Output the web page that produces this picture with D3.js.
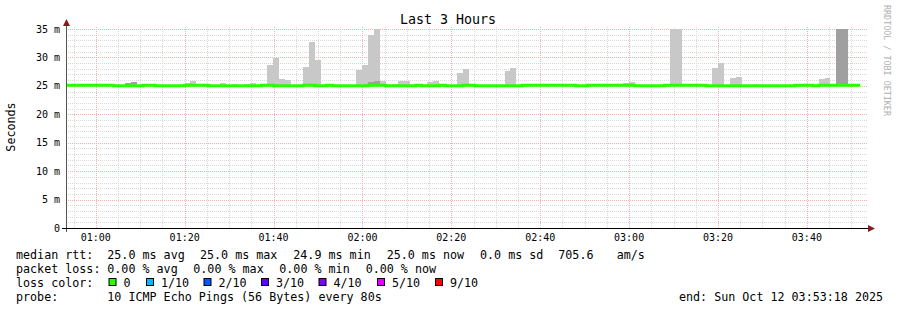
<!DOCTYPE html>
<html><head><meta charset="utf-8">
<script src="https://cdn.jsdelivr.net/npm/d3@7"></script>
<style>body{margin:0;background:#fff}svg{display:block}</style>
</head><body>
<svg id="c" width="897" height="310"></svg>
<script>
// ---------- data ----------
const chartTitle = "Last 3 Hours";
const yAxisTitle = "Seconds";
const creditText = "RRDTOOL / TOBI OETIKER";
const endTimeStr = "2025-10-12T03:53:18";
const rangeHours = 3;
const stepSeconds = 80;
const yTickValues = [0, 5, 10, 15, 20, 25, 30, 35];
const yTickLabels = ["0", "5 m", "10 m", "15 m", "20 m", "25 m", "30 m", "35 m"];
const xTickLabels = ["01:00", "01:20", "01:40", "02:00", "02:20", "02:40", "03:00", "03:20", "03:40"];

// median RTT per 80 s step (ms)
const medianMs = [
  25.1,25.1,25.1,25.1,25.1,25.1,25.1,25.1,25.0,25.0,
  25.0,25.0,25.0,25.1,25.1,25.0,25.0,25.0,25.0,25.0,
  25.1,25.1,25.1,25.1,25.0,25.0,25.0,25.0,25.0,25.0,
  25.0,25.0,25.0,25.1,25.1,25.0,25.0,25.0,25.0,25.0,
  25.1,25.1,25.0,25.0,25.1,25.0,25.0,25.0,25.0,25.0,
  25.0,25.1,25.1,25.1,25.0,25.0,25.0,25.0,25.0,25.1,
  25.0,25.0,25.0,25.1,25.0,25.0,25.0,25.1,25.1,25.0,
  25.0,25.0,25.0,25.0,25.0,25.0,25.0,25.1,25.1,25.1,
  25.1,25.1,25.1,25.1,25.1,25.1,25.0,25.0,25.1,25.1,
  25.1,25.1,25.1,25.1,25.1,25.1,25.0,25.0,25.0,25.0,
  25.0,25.1,25.1,25.1,25.1,25.1,25.1,25.1,25.0,25.0,
  25.0,25.0,25.0,25.0,25.0,25.0,25.0,25.0,25.0,25.0,
  25.0,25.0,25.0,25.1,25.1,25.1,25.0,25.1,25.1,25.1,
  25.1,25.1,25.1,25.1
];
// highest ping per step (light smoke top, ms)
const smokeTopMs = [
  25.1,25.1,25.1,25.1,25.1,25.1,25.1,25.1,25.1,25.1,
  25.45,25.6,25.1,25.1,25.1,25.1,25.1,25.1,25.1,25.1,
  25.45,25.8,25.1,25.1,25.1,25.1,25.45,25.2,25.3,25.1,
  25.35,25.45,25.1,25.1,28.7,29.9,26.2,26.0,25.1,25.1,
  28.3,32.7,29.5,25.1,25.1,25.1,25.1,25.1,25.1,27.75,
  28.7,34.0,35.4,25.8,25.1,25.3,25.8,25.8,25.1,25.1,
  25.1,25.6,25.8,25.1,25.1,25.1,27.2,27.9,25.1,25.1,
  25.1,25.1,25.1,25.1,27.6,28.1,25.1,25.1,25.1,25.1,
  25.1,25.1,25.1,25.1,25.1,25.1,25.1,25.1,25.1,25.1,
  25.1,25.1,25.1,25.1,25.45,25.6,25.1,25.1,25.1,25.1,
  25.1,25.1,38.0,38.0,25.1,25.1,25.1,25.1,25.1,28.1,
  29.0,25.1,26.3,26.5,25.1,25.1,25.3,25.1,25.1,25.1,
  25.1,25.1,25.1,25.1,25.1,25.1,25.1,26.2,26.3,25.1,
  38.0,38.0,25.3,25.3
];
const smokeBottomMs = 24.9;
// dense (dark) smoke steps
const darkSteps = [10, 11, 51, 52, 130, 131];
const darkTopMs = [25.45, 25.6, 25.6, 25.8, 38.0, 38.0];

const rttLabel = "median rtt:";
const rttStats = ["25.0 ms avg", "25.0 ms max", "24.9 ms min", "25.0 ms now", "0.0 ms sd", "705.6", "am/s"];
const lossLabel = "packet loss:";
const lossStats = ["0.00 % avg", "0.00 % max", "0.00 % min", "0.00 % now"];
const lossColorLabel = "loss color:";
const lossLabels = ["0", "1/10", "2/10", "3/10", "4/10", "5/10", "9/10"];
const lossColors = ["#26ff00", "#00b8ff", "#0059ff", "#5e00ff", "#7e00ff", "#dd00ff", "#ff0000"];
const probeLabel = "probe:";
const probeText = "10 ICMP Echo Pings (56 Bytes) every 80s";
const endText = "end: Sun Oct 12 03:53:18 2025";

// ---------- layout ----------
const L = 66, R = 866, T = 29, B = 228;
const mono = "'DejaVu Sans Mono', monospace";
const svg = d3.select("#c");
svg.append("rect").attr("width", 897).attr("height", 310).attr("fill", "#fff");

const end = new Date(endTimeStr);
const start = new Date(end.getTime() - rangeHours * 3600 * 1000);
const x = d3.scaleTime().domain([start, end]).range([L, R]);
const y = d3.scaleLinear().domain([0, 35]).range([B, T]).clamp(true);
const stepTime = i => new Date(start.getTime() + i * stepSeconds * 1000);

// ---------- grid ----------
const minorCol = "#d8d8d8", majorCol = "#f4b0b0";
const grid = svg.append("g").attr("shape-rendering", "crispEdges");
const minorY = d3.range(1, 36).filter(v => v % 5 !== 0);
grid.selectAll(".hmin").data(minorY).enter().append("line")
  .attr("x1", L).attr("x2", R + 2).attr("y1", d => Math.round(y(d)) + 0.5).attr("y2", d => Math.round(y(d)) + 0.5)
  .attr("stroke", minorCol).attr("stroke-dasharray", "1,1");
const minorX = d3.timeMinute.every(5).range(start, end).filter(t => t.getMinutes() % 20 !== 0);
grid.selectAll(".vmin").data(minorX).enter().append("line")
  .attr("x1", d => Math.round(x(d)) + 0.5).attr("x2", d => Math.round(x(d)) + 0.5).attr("y1", T - 2).attr("y2", B)
  .attr("stroke", minorCol).attr("stroke-dasharray", "1,1");
grid.selectAll(".hmaj").data(yTickValues.filter(v => v > 0)).enter().append("line")
  .attr("x1", L).attr("x2", R + 2).attr("y1", d => Math.round(y(d)) + 0.5).attr("y2", d => Math.round(y(d)) + 0.5)
  .attr("stroke", majorCol).attr("stroke-dasharray", "1,1");
const majorX = d3.timeMinute.every(20).range(start, end);
grid.selectAll(".vmaj").data(majorX).enter().append("line")
  .attr("x1", d => Math.round(x(d)) + 0.5).attr("x2", d => Math.round(x(d)) + 0.5).attr("y1", T - 2).attr("y2", B)
  .attr("stroke", majorCol).attr("stroke-dasharray", "1,1");

// ---------- smoke ----------
const smoke = svg.append("g").attr("shape-rendering", "crispEdges");
smoke.selectAll(".sl").data(smokeTopMs).enter().append("rect")
  .attr("x", (d, i) => x(stepTime(i)))
  .attr("width", (d, i) => x(stepTime(i + 1)) - x(stepTime(i)))
  .attr("y", d => y(d))
  .attr("height", d => Math.max(0, y(smokeBottomMs) - y(d)))
  .attr("fill", "#c8c8c8");
smoke.selectAll(".sd").data(darkSteps).enter().append("rect")
  .attr("x", d => x(stepTime(d)))
  .attr("width", d => x(stepTime(d + 1)) - x(stepTime(d)))
  .attr("y", (d, k) => y(darkTopMs[k]))
  .attr("height", (d, k) => Math.max(0, y(smokeBottomMs) - y(darkTopMs[k])))
  .attr("fill", "#a0a0a0");

// ---------- median line ----------
const pts = medianMs.map((v, i) => [stepTime(i), v]);
pts.push([stepTime(medianMs.length), medianMs[medianMs.length - 1]]);
svg.append("path")
  .attr("d", d3.line().x(d => x(d[0])).y(d => y(d[1])).curve(d3.curveStepAfter)(pts))
  .attr("fill", "none").attr("stroke", lossColors[0]).attr("stroke-width", 3);

// ---------- axes ----------
svg.append("line").attr("x1", L + 0.5).attr("x2", L + 0.5).attr("y1", B + 4).attr("y2", 22)
  .attr("stroke", "#555").attr("shape-rendering", "crispEdges");
svg.append("line").attr("x1", L - 4).attr("x2", R + 3).attr("y1", B + 0.5).attr("y2", B + 0.5)
  .attr("stroke", "#000").attr("shape-rendering", "crispEdges");
svg.append("path").attr("d", `M${L - 3},26 L${L + 0.5},19 L${L + 4},26 Z`).attr("fill", "#8b1a1a");
svg.append("path").attr("d", `M${R + 2},${B - 3} L${R + 9},${B + 0.5} L${R + 2},${B + 4} Z`).attr("fill", "#8b1a1a");

svg.append("g").selectAll("text").data(yTickValues).enter().append("text")
  .attr("x", 60).attr("y", d => y(d) + 3.6).attr("text-anchor", "end")
  .attr("font-family", mono).attr("font-size", 10).attr("fill", "#000")
  .text((d, i) => yTickLabels[i]);

svg.append("g").selectAll("text").data(majorX).enter().append("text")
  .attr("x", d => x(d)).attr("y", 240.5).attr("text-anchor", "middle")
  .attr("font-family", mono).attr("font-size", 10).attr("fill", "#000")
  .text((d, i) => xTickLabels[i]);

// ---------- titles ----------
svg.append("text").attr("x", 448).attr("y", 24).attr("text-anchor", "middle")
  .attr("font-family", mono).attr("font-size", 13.3).attr("fill", "#000").text(chartTitle);
svg.append("text").attr("transform", "translate(15,127) rotate(-90)").attr("text-anchor", "middle")
  .attr("font-family", mono).attr("font-size", 11.7).attr("fill", "#000").text(yAxisTitle);
svg.append("text").attr("transform", "translate(884,5) rotate(90)").attr("text-anchor", "start")
  .attr("font-family", mono).attr("font-size", 8.4).attr("fill", "#b0b0b0").text(creditText);

// ---------- legend ----------
const lg = svg.append("g").attr("font-family", mono).attr("font-size", 11.7).attr("fill", "#000");
const rows = [258.5, 272.5, 286.8, 300.8];
const t = (xx, yy, s) => lg.append("text").attr("x", xx).attr("y", yy).attr("xml:space", "preserve").text(s);
t(16, rows[0], rttLabel);
const rttX = [107.3, 200, 293.3, 386.7, 480, 558.3, 616.7];
rttStats.forEach((s, i) => t(rttX[i], rows[0], s));
t(16, rows[1], lossLabel);
const lossX = [107.3, 193.3, 279.3, 365.7];
lossStats.forEach((s, i) => t(lossX[i], rows[1], s));
t(16, rows[2], lossColorLabel);
const boxX = [108.5, 146, 203.5, 261, 318.5, 377, 435];
lossLabels.forEach((s, i) => {
  lg.append("rect").attr("x", boxX[i] + 0.5).attr("y", 278.5).attr("width", 7).attr("height", 7)
    .attr("fill", lossColors[i]).attr("stroke", "#000").attr("stroke-width", 1);
  t(boxX[i] + 15, rows[2], s);
});
t(16, rows[3], probeLabel);
t(107.3, rows[3], probeText);
t(679, rows[3], endText);
</script>
</body></html>
